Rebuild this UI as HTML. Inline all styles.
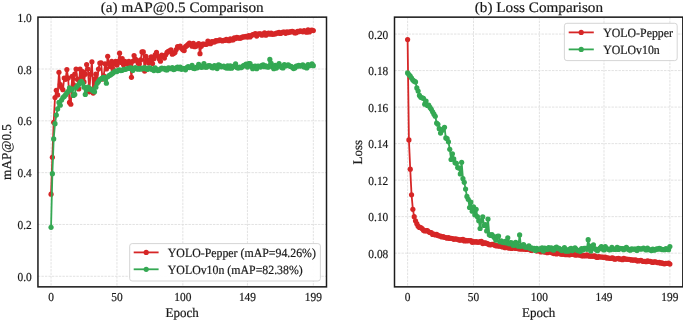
<!DOCTYPE html>
<html><head><meta charset="utf-8"><style>
html,body{margin:0;padding:0;background:#fff;width:685px;height:321px;overflow:hidden}
svg{display:block}
text{text-rendering:geometricPrecision;font-family:"Liberation Serif",serif;fill:#1a1a1a;stroke:#1a1a1a;stroke-width:0.2px}
</style></head><body>
<svg width="685" height="321" viewBox="0 0 685 321">
<defs><filter id="b" x="0" y="0" width="1" height="1"><feGaussianBlur stdDeviation="0.35"/></filter></defs>
<rect width="685" height="321" fill="#fff"/>
<g filter="url(#b)">
<line x1="51.05" x2="51.05" y1="17.15" y2="286.85" stroke="#dfdfdf" stroke-width="0.9" stroke-dasharray="2.4 1.1"/>
<line x1="116.95" x2="116.95" y1="17.15" y2="286.85" stroke="#dfdfdf" stroke-width="0.9" stroke-dasharray="2.4 1.1"/>
<line x1="182.85" x2="182.85" y1="17.15" y2="286.85" stroke="#dfdfdf" stroke-width="0.9" stroke-dasharray="2.4 1.1"/>
<line x1="247.43" x2="247.43" y1="17.15" y2="286.85" stroke="#dfdfdf" stroke-width="0.9" stroke-dasharray="2.4 1.1"/>
<line x1="313.33" x2="313.33" y1="17.15" y2="286.85" stroke="#dfdfdf" stroke-width="0.9" stroke-dasharray="2.4 1.1"/>
<line x1="37.95" x2="326.5" y1="276.28" y2="276.28" stroke="#dfdfdf" stroke-width="0.9" stroke-dasharray="2.4 1.1"/>
<line x1="37.95" x2="326.5" y1="224.46" y2="224.46" stroke="#dfdfdf" stroke-width="0.9" stroke-dasharray="2.4 1.1"/>
<line x1="37.95" x2="326.5" y1="172.64" y2="172.64" stroke="#dfdfdf" stroke-width="0.9" stroke-dasharray="2.4 1.1"/>
<line x1="37.95" x2="326.5" y1="120.82" y2="120.82" stroke="#dfdfdf" stroke-width="0.9" stroke-dasharray="2.4 1.1"/>
<line x1="37.95" x2="326.5" y1="69.00" y2="69.00" stroke="#dfdfdf" stroke-width="0.9" stroke-dasharray="2.4 1.1"/>
<line x1="37.95" x2="326.5" y1="17.18" y2="17.18" stroke="#dfdfdf" stroke-width="0.9" stroke-dasharray="2.4 1.1"/>
<polyline points="51.05,194.15 52.37,157.35 53.69,122.37 55.00,97.50 56.32,90.25 57.64,94.91 58.96,72.37 60.28,84.55 61.59,87.40 62.91,89.73 64.23,78.07 65.55,79.36 66.87,69.52 68.18,78.07 69.50,102.42 70.82,104.24 72.14,76.25 73.46,84.55 74.77,74.18 76.09,69.00 77.41,79.36 78.73,88.95 80.05,69.00 81.36,76.77 82.68,71.59 84.00,81.95 85.32,74.18 86.64,64.60 87.95,69.00 89.27,91.80 90.59,74.18 91.91,61.75 93.23,93.10 94.54,79.10 95.86,74.18 97.18,80.40 98.50,69.00 99.82,63.04 101.13,62.78 102.45,79.10 103.77,75.74 105.09,63.82 106.41,69.00 107.72,56.30 109.04,63.82 110.36,66.41 111.68,61.23 113.00,69.00 114.31,63.82 115.63,61.23 116.95,65.11 118.27,61.23 119.59,53.19 120.90,62.52 122.22,58.64 123.54,64.85 124.86,61.23 126.18,63.30 127.49,63.82 128.81,61.23 130.13,64.34 131.45,77.29 132.77,61.23 134.08,55.53 135.40,59.15 136.72,60.45 138.04,63.04 139.36,63.82 140.67,59.93 141.99,51.90 143.31,51.90 144.63,71.07 145.95,56.30 147.26,59.93 148.58,63.04 149.90,60.45 151.22,56.82 152.54,63.56 153.85,58.64 155.17,54.75 156.49,52.42 157.81,56.04 159.13,58.64 160.44,61.23 161.76,55.01 163.08,56.04 164.40,58.12 165.72,54.75 167.03,52.42 168.35,51.38 169.67,50.86 170.99,49.83 172.31,54.23 173.62,53.45 174.94,52.42 176.26,49.57 177.58,46.72 178.90,46.98 180.21,46.20 181.53,48.27 182.85,49.83 184.17,50.60 185.49,46.72 186.80,45.68 188.12,44.39 189.44,43.09 190.76,44.20 192.08,46.19 193.39,43.35 194.71,46.68 196.03,46.13 197.35,44.95 198.67,43.56 199.98,53.71 201.30,46.33 202.62,44.04 203.94,43.99 205.26,44.32 206.57,44.31 207.89,40.99 209.21,43.40 210.53,43.65 211.85,41.62 213.16,41.94 214.48,41.90 215.80,40.70 217.12,40.79 218.44,40.70 219.75,39.88 221.07,40.32 222.39,40.90 223.71,40.43 225.03,40.33 226.34,39.44 227.66,40.35 228.98,40.74 230.30,38.84 231.62,39.84 232.93,40.00 234.25,37.88 235.57,38.57 236.89,37.30 238.21,37.93 239.52,38.19 240.84,38.05 242.16,37.20 243.48,36.76 244.80,36.97 246.11,36.28 247.43,37.07 248.75,35.56 250.07,36.90 251.39,35.50 252.70,34.68 254.02,34.26 255.34,33.66 256.66,36.11 257.98,34.19 259.29,33.74 260.61,33.80 261.93,35.14 263.25,34.01 264.57,32.86 265.88,35.21 267.20,33.63 268.52,33.05 269.84,34.26 271.16,33.21 272.47,34.30 273.79,33.99 275.11,33.88 276.43,33.05 277.75,33.13 279.06,32.29 280.38,33.49 281.70,32.82 283.02,31.98 284.34,32.17 285.65,33.36 286.97,31.94 288.29,32.61 289.61,31.95 290.93,31.93 292.24,31.24 293.56,31.87 294.88,33.01 296.20,32.64 297.52,31.23 298.83,31.76 300.15,30.81 301.47,31.26 302.79,31.80 304.11,30.60 305.42,31.66 306.74,32.16 308.06,29.94 309.38,31.96 310.70,30.46 312.01,30.20 313.33,30.57" fill="none" stroke="#d62728" stroke-width="1.8" stroke-linejoin="round"/>
<g fill="#d62728"><circle cx="51.05" cy="194.15" r="2.6"/><circle cx="52.37" cy="157.35" r="2.6"/><circle cx="53.69" cy="122.37" r="2.6"/><circle cx="55.00" cy="97.50" r="2.6"/><circle cx="56.32" cy="90.25" r="2.6"/><circle cx="57.64" cy="94.91" r="2.6"/><circle cx="58.96" cy="72.37" r="2.6"/><circle cx="60.28" cy="84.55" r="2.6"/><circle cx="61.59" cy="87.40" r="2.6"/><circle cx="62.91" cy="89.73" r="2.6"/><circle cx="64.23" cy="78.07" r="2.6"/><circle cx="65.55" cy="79.36" r="2.6"/><circle cx="66.87" cy="69.52" r="2.6"/><circle cx="68.18" cy="78.07" r="2.6"/><circle cx="69.50" cy="102.42" r="2.6"/><circle cx="70.82" cy="104.24" r="2.6"/><circle cx="72.14" cy="76.25" r="2.6"/><circle cx="73.46" cy="84.55" r="2.6"/><circle cx="74.77" cy="74.18" r="2.6"/><circle cx="76.09" cy="69.00" r="2.6"/><circle cx="77.41" cy="79.36" r="2.6"/><circle cx="78.73" cy="88.95" r="2.6"/><circle cx="80.05" cy="69.00" r="2.6"/><circle cx="81.36" cy="76.77" r="2.6"/><circle cx="82.68" cy="71.59" r="2.6"/><circle cx="84.00" cy="81.95" r="2.6"/><circle cx="85.32" cy="74.18" r="2.6"/><circle cx="86.64" cy="64.60" r="2.6"/><circle cx="87.95" cy="69.00" r="2.6"/><circle cx="89.27" cy="91.80" r="2.6"/><circle cx="90.59" cy="74.18" r="2.6"/><circle cx="91.91" cy="61.75" r="2.6"/><circle cx="93.23" cy="93.10" r="2.6"/><circle cx="94.54" cy="79.10" r="2.6"/><circle cx="95.86" cy="74.18" r="2.6"/><circle cx="97.18" cy="80.40" r="2.6"/><circle cx="98.50" cy="69.00" r="2.6"/><circle cx="99.82" cy="63.04" r="2.6"/><circle cx="101.13" cy="62.78" r="2.6"/><circle cx="102.45" cy="79.10" r="2.6"/><circle cx="103.77" cy="75.74" r="2.6"/><circle cx="105.09" cy="63.82" r="2.6"/><circle cx="106.41" cy="69.00" r="2.6"/><circle cx="107.72" cy="56.30" r="2.6"/><circle cx="109.04" cy="63.82" r="2.6"/><circle cx="110.36" cy="66.41" r="2.6"/><circle cx="111.68" cy="61.23" r="2.6"/><circle cx="113.00" cy="69.00" r="2.6"/><circle cx="114.31" cy="63.82" r="2.6"/><circle cx="115.63" cy="61.23" r="2.6"/><circle cx="116.95" cy="65.11" r="2.6"/><circle cx="118.27" cy="61.23" r="2.6"/><circle cx="119.59" cy="53.19" r="2.6"/><circle cx="120.90" cy="62.52" r="2.6"/><circle cx="122.22" cy="58.64" r="2.6"/><circle cx="123.54" cy="64.85" r="2.6"/><circle cx="124.86" cy="61.23" r="2.6"/><circle cx="126.18" cy="63.30" r="2.6"/><circle cx="127.49" cy="63.82" r="2.6"/><circle cx="128.81" cy="61.23" r="2.6"/><circle cx="130.13" cy="64.34" r="2.6"/><circle cx="131.45" cy="77.29" r="2.6"/><circle cx="132.77" cy="61.23" r="2.6"/><circle cx="134.08" cy="55.53" r="2.6"/><circle cx="135.40" cy="59.15" r="2.6"/><circle cx="136.72" cy="60.45" r="2.6"/><circle cx="138.04" cy="63.04" r="2.6"/><circle cx="139.36" cy="63.82" r="2.6"/><circle cx="140.67" cy="59.93" r="2.6"/><circle cx="141.99" cy="51.90" r="2.6"/><circle cx="143.31" cy="51.90" r="2.6"/><circle cx="144.63" cy="71.07" r="2.6"/><circle cx="145.95" cy="56.30" r="2.6"/><circle cx="147.26" cy="59.93" r="2.6"/><circle cx="148.58" cy="63.04" r="2.6"/><circle cx="149.90" cy="60.45" r="2.6"/><circle cx="151.22" cy="56.82" r="2.6"/><circle cx="152.54" cy="63.56" r="2.6"/><circle cx="153.85" cy="58.64" r="2.6"/><circle cx="155.17" cy="54.75" r="2.6"/><circle cx="156.49" cy="52.42" r="2.6"/><circle cx="157.81" cy="56.04" r="2.6"/><circle cx="159.13" cy="58.64" r="2.6"/><circle cx="160.44" cy="61.23" r="2.6"/><circle cx="161.76" cy="55.01" r="2.6"/><circle cx="163.08" cy="56.04" r="2.6"/><circle cx="164.40" cy="58.12" r="2.6"/><circle cx="165.72" cy="54.75" r="2.6"/><circle cx="167.03" cy="52.42" r="2.6"/><circle cx="168.35" cy="51.38" r="2.6"/><circle cx="169.67" cy="50.86" r="2.6"/><circle cx="170.99" cy="49.83" r="2.6"/><circle cx="172.31" cy="54.23" r="2.6"/><circle cx="173.62" cy="53.45" r="2.6"/><circle cx="174.94" cy="52.42" r="2.6"/><circle cx="176.26" cy="49.57" r="2.6"/><circle cx="177.58" cy="46.72" r="2.6"/><circle cx="178.90" cy="46.98" r="2.6"/><circle cx="180.21" cy="46.20" r="2.6"/><circle cx="181.53" cy="48.27" r="2.6"/><circle cx="182.85" cy="49.83" r="2.6"/><circle cx="184.17" cy="50.60" r="2.6"/><circle cx="185.49" cy="46.72" r="2.6"/><circle cx="186.80" cy="45.68" r="2.6"/><circle cx="188.12" cy="44.39" r="2.6"/><circle cx="189.44" cy="43.09" r="2.6"/><circle cx="190.76" cy="44.20" r="2.6"/><circle cx="192.08" cy="46.19" r="2.6"/><circle cx="193.39" cy="43.35" r="2.6"/><circle cx="194.71" cy="46.68" r="2.6"/><circle cx="196.03" cy="46.13" r="2.6"/><circle cx="197.35" cy="44.95" r="2.6"/><circle cx="198.67" cy="43.56" r="2.6"/><circle cx="199.98" cy="53.71" r="2.6"/><circle cx="201.30" cy="46.33" r="2.6"/><circle cx="202.62" cy="44.04" r="2.6"/><circle cx="203.94" cy="43.99" r="2.6"/><circle cx="205.26" cy="44.32" r="2.6"/><circle cx="206.57" cy="44.31" r="2.6"/><circle cx="207.89" cy="40.99" r="2.6"/><circle cx="209.21" cy="43.40" r="2.6"/><circle cx="210.53" cy="43.65" r="2.6"/><circle cx="211.85" cy="41.62" r="2.6"/><circle cx="213.16" cy="41.94" r="2.6"/><circle cx="214.48" cy="41.90" r="2.6"/><circle cx="215.80" cy="40.70" r="2.6"/><circle cx="217.12" cy="40.79" r="2.6"/><circle cx="218.44" cy="40.70" r="2.6"/><circle cx="219.75" cy="39.88" r="2.6"/><circle cx="221.07" cy="40.32" r="2.6"/><circle cx="222.39" cy="40.90" r="2.6"/><circle cx="223.71" cy="40.43" r="2.6"/><circle cx="225.03" cy="40.33" r="2.6"/><circle cx="226.34" cy="39.44" r="2.6"/><circle cx="227.66" cy="40.35" r="2.6"/><circle cx="228.98" cy="40.74" r="2.6"/><circle cx="230.30" cy="38.84" r="2.6"/><circle cx="231.62" cy="39.84" r="2.6"/><circle cx="232.93" cy="40.00" r="2.6"/><circle cx="234.25" cy="37.88" r="2.6"/><circle cx="235.57" cy="38.57" r="2.6"/><circle cx="236.89" cy="37.30" r="2.6"/><circle cx="238.21" cy="37.93" r="2.6"/><circle cx="239.52" cy="38.19" r="2.6"/><circle cx="240.84" cy="38.05" r="2.6"/><circle cx="242.16" cy="37.20" r="2.6"/><circle cx="243.48" cy="36.76" r="2.6"/><circle cx="244.80" cy="36.97" r="2.6"/><circle cx="246.11" cy="36.28" r="2.6"/><circle cx="247.43" cy="37.07" r="2.6"/><circle cx="248.75" cy="35.56" r="2.6"/><circle cx="250.07" cy="36.90" r="2.6"/><circle cx="251.39" cy="35.50" r="2.6"/><circle cx="252.70" cy="34.68" r="2.6"/><circle cx="254.02" cy="34.26" r="2.6"/><circle cx="255.34" cy="33.66" r="2.6"/><circle cx="256.66" cy="36.11" r="2.6"/><circle cx="257.98" cy="34.19" r="2.6"/><circle cx="259.29" cy="33.74" r="2.6"/><circle cx="260.61" cy="33.80" r="2.6"/><circle cx="261.93" cy="35.14" r="2.6"/><circle cx="263.25" cy="34.01" r="2.6"/><circle cx="264.57" cy="32.86" r="2.6"/><circle cx="265.88" cy="35.21" r="2.6"/><circle cx="267.20" cy="33.63" r="2.6"/><circle cx="268.52" cy="33.05" r="2.6"/><circle cx="269.84" cy="34.26" r="2.6"/><circle cx="271.16" cy="33.21" r="2.6"/><circle cx="272.47" cy="34.30" r="2.6"/><circle cx="273.79" cy="33.99" r="2.6"/><circle cx="275.11" cy="33.88" r="2.6"/><circle cx="276.43" cy="33.05" r="2.6"/><circle cx="277.75" cy="33.13" r="2.6"/><circle cx="279.06" cy="32.29" r="2.6"/><circle cx="280.38" cy="33.49" r="2.6"/><circle cx="281.70" cy="32.82" r="2.6"/><circle cx="283.02" cy="31.98" r="2.6"/><circle cx="284.34" cy="32.17" r="2.6"/><circle cx="285.65" cy="33.36" r="2.6"/><circle cx="286.97" cy="31.94" r="2.6"/><circle cx="288.29" cy="32.61" r="2.6"/><circle cx="289.61" cy="31.95" r="2.6"/><circle cx="290.93" cy="31.93" r="2.6"/><circle cx="292.24" cy="31.24" r="2.6"/><circle cx="293.56" cy="31.87" r="2.6"/><circle cx="294.88" cy="33.01" r="2.6"/><circle cx="296.20" cy="32.64" r="2.6"/><circle cx="297.52" cy="31.23" r="2.6"/><circle cx="298.83" cy="31.76" r="2.6"/><circle cx="300.15" cy="30.81" r="2.6"/><circle cx="301.47" cy="31.26" r="2.6"/><circle cx="302.79" cy="31.80" r="2.6"/><circle cx="304.11" cy="30.60" r="2.6"/><circle cx="305.42" cy="31.66" r="2.6"/><circle cx="306.74" cy="32.16" r="2.6"/><circle cx="308.06" cy="29.94" r="2.6"/><circle cx="309.38" cy="31.96" r="2.6"/><circle cx="310.70" cy="30.46" r="2.6"/><circle cx="312.01" cy="30.20" r="2.6"/><circle cx="313.33" cy="30.57" r="2.6"/></g>
<polyline points="51.05,227.31 52.37,173.68 53.69,138.96 55.00,123.67 56.32,115.12 57.64,108.90 58.96,102.42 60.28,105.27 61.59,100.09 62.91,97.50 64.23,96.46 65.55,94.91 66.87,92.84 68.18,91.28 69.50,87.91 70.82,89.99 72.14,89.21 73.46,95.43 74.77,94.39 76.09,87.40 77.41,85.84 78.73,84.55 80.05,82.47 81.36,81.44 82.68,83.25 84.00,87.14 85.32,94.39 86.64,89.73 87.95,87.14 89.27,88.43 90.59,89.21 91.91,89.99 93.23,91.02 94.54,91.80 95.86,87.14 97.18,83.25 98.50,81.44 99.82,79.62 101.13,78.85 102.45,77.81 103.77,77.29 105.09,79.36 106.41,83.25 107.72,76.77 109.04,75.48 110.36,74.96 111.68,73.92 113.00,72.89 114.31,71.85 115.63,71.07 116.95,71.59 118.27,70.30 119.59,69.78 120.90,70.55 122.22,70.30 123.54,69.26 124.86,69.52 126.18,69.00 127.49,68.48 128.81,68.38 130.13,67.81 131.45,68.16 132.77,70.47 134.08,68.50 135.40,67.48 136.72,68.72 138.04,69.21 139.36,68.46 140.67,69.20 141.99,68.16 143.31,68.75 144.63,67.48 145.95,68.29 147.26,69.40 148.58,68.19 149.90,67.89 151.22,69.26 152.54,69.13 153.85,70.55 155.17,67.92 156.49,69.27 157.81,70.55 159.13,70.34 160.44,68.94 161.76,68.05 163.08,68.82 164.40,68.31 165.72,69.74 167.03,69.96 168.35,67.94 169.67,68.29 170.99,68.77 172.31,67.58 173.62,69.60 174.94,69.12 176.26,67.81 177.58,67.07 178.90,68.73 180.21,67.22 181.53,69.29 182.85,68.44 184.17,68.65 185.49,69.79 186.80,67.70 188.12,66.71 189.44,67.61 190.76,67.27 192.08,65.37 193.39,68.36 194.71,68.55 196.03,67.34 197.35,67.87 198.67,64.41 199.98,65.77 201.30,67.31 202.62,67.01 203.94,63.64 205.26,67.04 206.57,67.26 207.89,65.90 209.21,65.48 210.53,66.04 211.85,67.53 213.16,67.87 214.48,65.62 215.80,66.48 217.12,68.53 218.44,64.87 219.75,65.37 221.07,66.68 222.39,66.69 223.71,66.05 225.03,67.23 226.34,68.07 227.66,65.90 228.98,68.17 230.30,65.79 231.62,68.15 232.93,66.40 234.25,66.44 235.57,63.94 236.89,67.62 238.21,68.07 239.52,67.06 240.84,67.67 242.16,66.97 243.48,65.65 244.80,65.18 246.11,64.02 247.43,67.11 248.75,63.56 250.07,63.58 251.39,66.40 252.70,68.73 254.02,66.24 255.34,66.03 256.66,68.71 257.98,66.02 259.29,66.37 260.61,67.12 261.93,65.29 263.25,64.79 264.57,66.72 265.88,65.78 267.20,66.92 268.52,67.09 269.84,59.41 271.16,63.30 272.47,66.78 273.79,68.64 275.11,65.29 276.43,68.11 277.75,65.88 279.06,63.72 280.38,66.04 281.70,67.56 283.02,67.91 284.34,64.49 285.65,66.02 286.97,65.30 288.29,64.79 289.61,66.05 290.93,66.38 292.24,67.20 293.56,68.56 294.88,67.93 296.20,66.05 297.52,66.18 298.83,65.43 300.15,66.11 301.47,65.73 302.79,64.91 304.11,67.07 305.42,66.29 306.74,68.00 308.06,64.65 309.38,65.86 310.70,65.27 312.01,63.90 313.33,65.63" fill="none" stroke="#34a853" stroke-width="1.8" stroke-linejoin="round"/>
<g fill="#34a853"><circle cx="51.05" cy="227.31" r="2.6"/><circle cx="52.37" cy="173.68" r="2.6"/><circle cx="53.69" cy="138.96" r="2.6"/><circle cx="55.00" cy="123.67" r="2.6"/><circle cx="56.32" cy="115.12" r="2.6"/><circle cx="57.64" cy="108.90" r="2.6"/><circle cx="58.96" cy="102.42" r="2.6"/><circle cx="60.28" cy="105.27" r="2.6"/><circle cx="61.59" cy="100.09" r="2.6"/><circle cx="62.91" cy="97.50" r="2.6"/><circle cx="64.23" cy="96.46" r="2.6"/><circle cx="65.55" cy="94.91" r="2.6"/><circle cx="66.87" cy="92.84" r="2.6"/><circle cx="68.18" cy="91.28" r="2.6"/><circle cx="69.50" cy="87.91" r="2.6"/><circle cx="70.82" cy="89.99" r="2.6"/><circle cx="72.14" cy="89.21" r="2.6"/><circle cx="73.46" cy="95.43" r="2.6"/><circle cx="74.77" cy="94.39" r="2.6"/><circle cx="76.09" cy="87.40" r="2.6"/><circle cx="77.41" cy="85.84" r="2.6"/><circle cx="78.73" cy="84.55" r="2.6"/><circle cx="80.05" cy="82.47" r="2.6"/><circle cx="81.36" cy="81.44" r="2.6"/><circle cx="82.68" cy="83.25" r="2.6"/><circle cx="84.00" cy="87.14" r="2.6"/><circle cx="85.32" cy="94.39" r="2.6"/><circle cx="86.64" cy="89.73" r="2.6"/><circle cx="87.95" cy="87.14" r="2.6"/><circle cx="89.27" cy="88.43" r="2.6"/><circle cx="90.59" cy="89.21" r="2.6"/><circle cx="91.91" cy="89.99" r="2.6"/><circle cx="93.23" cy="91.02" r="2.6"/><circle cx="94.54" cy="91.80" r="2.6"/><circle cx="95.86" cy="87.14" r="2.6"/><circle cx="97.18" cy="83.25" r="2.6"/><circle cx="98.50" cy="81.44" r="2.6"/><circle cx="99.82" cy="79.62" r="2.6"/><circle cx="101.13" cy="78.85" r="2.6"/><circle cx="102.45" cy="77.81" r="2.6"/><circle cx="103.77" cy="77.29" r="2.6"/><circle cx="105.09" cy="79.36" r="2.6"/><circle cx="106.41" cy="83.25" r="2.6"/><circle cx="107.72" cy="76.77" r="2.6"/><circle cx="109.04" cy="75.48" r="2.6"/><circle cx="110.36" cy="74.96" r="2.6"/><circle cx="111.68" cy="73.92" r="2.6"/><circle cx="113.00" cy="72.89" r="2.6"/><circle cx="114.31" cy="71.85" r="2.6"/><circle cx="115.63" cy="71.07" r="2.6"/><circle cx="116.95" cy="71.59" r="2.6"/><circle cx="118.27" cy="70.30" r="2.6"/><circle cx="119.59" cy="69.78" r="2.6"/><circle cx="120.90" cy="70.55" r="2.6"/><circle cx="122.22" cy="70.30" r="2.6"/><circle cx="123.54" cy="69.26" r="2.6"/><circle cx="124.86" cy="69.52" r="2.6"/><circle cx="126.18" cy="69.00" r="2.6"/><circle cx="127.49" cy="68.48" r="2.6"/><circle cx="128.81" cy="68.38" r="2.6"/><circle cx="130.13" cy="67.81" r="2.6"/><circle cx="131.45" cy="68.16" r="2.6"/><circle cx="132.77" cy="70.47" r="2.6"/><circle cx="134.08" cy="68.50" r="2.6"/><circle cx="135.40" cy="67.48" r="2.6"/><circle cx="136.72" cy="68.72" r="2.6"/><circle cx="138.04" cy="69.21" r="2.6"/><circle cx="139.36" cy="68.46" r="2.6"/><circle cx="140.67" cy="69.20" r="2.6"/><circle cx="141.99" cy="68.16" r="2.6"/><circle cx="143.31" cy="68.75" r="2.6"/><circle cx="144.63" cy="67.48" r="2.6"/><circle cx="145.95" cy="68.29" r="2.6"/><circle cx="147.26" cy="69.40" r="2.6"/><circle cx="148.58" cy="68.19" r="2.6"/><circle cx="149.90" cy="67.89" r="2.6"/><circle cx="151.22" cy="69.26" r="2.6"/><circle cx="152.54" cy="69.13" r="2.6"/><circle cx="153.85" cy="70.55" r="2.6"/><circle cx="155.17" cy="67.92" r="2.6"/><circle cx="156.49" cy="69.27" r="2.6"/><circle cx="157.81" cy="70.55" r="2.6"/><circle cx="159.13" cy="70.34" r="2.6"/><circle cx="160.44" cy="68.94" r="2.6"/><circle cx="161.76" cy="68.05" r="2.6"/><circle cx="163.08" cy="68.82" r="2.6"/><circle cx="164.40" cy="68.31" r="2.6"/><circle cx="165.72" cy="69.74" r="2.6"/><circle cx="167.03" cy="69.96" r="2.6"/><circle cx="168.35" cy="67.94" r="2.6"/><circle cx="169.67" cy="68.29" r="2.6"/><circle cx="170.99" cy="68.77" r="2.6"/><circle cx="172.31" cy="67.58" r="2.6"/><circle cx="173.62" cy="69.60" r="2.6"/><circle cx="174.94" cy="69.12" r="2.6"/><circle cx="176.26" cy="67.81" r="2.6"/><circle cx="177.58" cy="67.07" r="2.6"/><circle cx="178.90" cy="68.73" r="2.6"/><circle cx="180.21" cy="67.22" r="2.6"/><circle cx="181.53" cy="69.29" r="2.6"/><circle cx="182.85" cy="68.44" r="2.6"/><circle cx="184.17" cy="68.65" r="2.6"/><circle cx="185.49" cy="69.79" r="2.6"/><circle cx="186.80" cy="67.70" r="2.6"/><circle cx="188.12" cy="66.71" r="2.6"/><circle cx="189.44" cy="67.61" r="2.6"/><circle cx="190.76" cy="67.27" r="2.6"/><circle cx="192.08" cy="65.37" r="2.6"/><circle cx="193.39" cy="68.36" r="2.6"/><circle cx="194.71" cy="68.55" r="2.6"/><circle cx="196.03" cy="67.34" r="2.6"/><circle cx="197.35" cy="67.87" r="2.6"/><circle cx="198.67" cy="64.41" r="2.6"/><circle cx="199.98" cy="65.77" r="2.6"/><circle cx="201.30" cy="67.31" r="2.6"/><circle cx="202.62" cy="67.01" r="2.6"/><circle cx="203.94" cy="63.64" r="2.6"/><circle cx="205.26" cy="67.04" r="2.6"/><circle cx="206.57" cy="67.26" r="2.6"/><circle cx="207.89" cy="65.90" r="2.6"/><circle cx="209.21" cy="65.48" r="2.6"/><circle cx="210.53" cy="66.04" r="2.6"/><circle cx="211.85" cy="67.53" r="2.6"/><circle cx="213.16" cy="67.87" r="2.6"/><circle cx="214.48" cy="65.62" r="2.6"/><circle cx="215.80" cy="66.48" r="2.6"/><circle cx="217.12" cy="68.53" r="2.6"/><circle cx="218.44" cy="64.87" r="2.6"/><circle cx="219.75" cy="65.37" r="2.6"/><circle cx="221.07" cy="66.68" r="2.6"/><circle cx="222.39" cy="66.69" r="2.6"/><circle cx="223.71" cy="66.05" r="2.6"/><circle cx="225.03" cy="67.23" r="2.6"/><circle cx="226.34" cy="68.07" r="2.6"/><circle cx="227.66" cy="65.90" r="2.6"/><circle cx="228.98" cy="68.17" r="2.6"/><circle cx="230.30" cy="65.79" r="2.6"/><circle cx="231.62" cy="68.15" r="2.6"/><circle cx="232.93" cy="66.40" r="2.6"/><circle cx="234.25" cy="66.44" r="2.6"/><circle cx="235.57" cy="63.94" r="2.6"/><circle cx="236.89" cy="67.62" r="2.6"/><circle cx="238.21" cy="68.07" r="2.6"/><circle cx="239.52" cy="67.06" r="2.6"/><circle cx="240.84" cy="67.67" r="2.6"/><circle cx="242.16" cy="66.97" r="2.6"/><circle cx="243.48" cy="65.65" r="2.6"/><circle cx="244.80" cy="65.18" r="2.6"/><circle cx="246.11" cy="64.02" r="2.6"/><circle cx="247.43" cy="67.11" r="2.6"/><circle cx="248.75" cy="63.56" r="2.6"/><circle cx="250.07" cy="63.58" r="2.6"/><circle cx="251.39" cy="66.40" r="2.6"/><circle cx="252.70" cy="68.73" r="2.6"/><circle cx="254.02" cy="66.24" r="2.6"/><circle cx="255.34" cy="66.03" r="2.6"/><circle cx="256.66" cy="68.71" r="2.6"/><circle cx="257.98" cy="66.02" r="2.6"/><circle cx="259.29" cy="66.37" r="2.6"/><circle cx="260.61" cy="67.12" r="2.6"/><circle cx="261.93" cy="65.29" r="2.6"/><circle cx="263.25" cy="64.79" r="2.6"/><circle cx="264.57" cy="66.72" r="2.6"/><circle cx="265.88" cy="65.78" r="2.6"/><circle cx="267.20" cy="66.92" r="2.6"/><circle cx="268.52" cy="67.09" r="2.6"/><circle cx="269.84" cy="59.41" r="2.6"/><circle cx="271.16" cy="63.30" r="2.6"/><circle cx="272.47" cy="66.78" r="2.6"/><circle cx="273.79" cy="68.64" r="2.6"/><circle cx="275.11" cy="65.29" r="2.6"/><circle cx="276.43" cy="68.11" r="2.6"/><circle cx="277.75" cy="65.88" r="2.6"/><circle cx="279.06" cy="63.72" r="2.6"/><circle cx="280.38" cy="66.04" r="2.6"/><circle cx="281.70" cy="67.56" r="2.6"/><circle cx="283.02" cy="67.91" r="2.6"/><circle cx="284.34" cy="64.49" r="2.6"/><circle cx="285.65" cy="66.02" r="2.6"/><circle cx="286.97" cy="65.30" r="2.6"/><circle cx="288.29" cy="64.79" r="2.6"/><circle cx="289.61" cy="66.05" r="2.6"/><circle cx="290.93" cy="66.38" r="2.6"/><circle cx="292.24" cy="67.20" r="2.6"/><circle cx="293.56" cy="68.56" r="2.6"/><circle cx="294.88" cy="67.93" r="2.6"/><circle cx="296.20" cy="66.05" r="2.6"/><circle cx="297.52" cy="66.18" r="2.6"/><circle cx="298.83" cy="65.43" r="2.6"/><circle cx="300.15" cy="66.11" r="2.6"/><circle cx="301.47" cy="65.73" r="2.6"/><circle cx="302.79" cy="64.91" r="2.6"/><circle cx="304.11" cy="67.07" r="2.6"/><circle cx="305.42" cy="66.29" r="2.6"/><circle cx="306.74" cy="68.00" r="2.6"/><circle cx="308.06" cy="64.65" r="2.6"/><circle cx="309.38" cy="65.86" r="2.6"/><circle cx="310.70" cy="65.27" r="2.6"/><circle cx="312.01" cy="63.90" r="2.6"/><circle cx="313.33" cy="65.63" r="2.6"/></g>
<rect x="37.95" y="17.15" width="288.55" height="269.70" fill="none" stroke="#1a1a1a" stroke-width="1.5"/>
<text transform="translate(51.05,301.30) scale(1,1.07)" font-size="11.4" text-anchor="middle">0</text>
<text transform="translate(116.95,301.30) scale(1,1.07)" font-size="11.4" text-anchor="middle">50</text>
<text transform="translate(182.85,301.30) scale(1,1.07)" font-size="11.4" text-anchor="middle">100</text>
<text transform="translate(247.43,301.30) scale(1,1.07)" font-size="11.4" text-anchor="middle">149</text>
<text transform="translate(313.33,301.30) scale(1,1.07)" font-size="11.4" text-anchor="middle">199</text>
<text transform="translate(31.70,280.88) scale(1,1.07)" font-size="11.4" text-anchor="end">0.0</text>
<text transform="translate(31.70,229.06) scale(1,1.07)" font-size="11.4" text-anchor="end">0.2</text>
<text transform="translate(31.70,177.24) scale(1,1.07)" font-size="11.4" text-anchor="end">0.4</text>
<text transform="translate(31.70,125.42) scale(1,1.07)" font-size="11.4" text-anchor="end">0.6</text>
<text transform="translate(31.70,73.60) scale(1,1.07)" font-size="11.4" text-anchor="end">0.8</text>
<text transform="translate(31.70,21.78) scale(1,1.07)" font-size="11.4" text-anchor="end">1.0</text>
<line x1="407.60" x2="407.60" y1="17.15" y2="286.85" stroke="#dfdfdf" stroke-width="0.9" stroke-dasharray="2.4 1.1"/>
<line x1="473.50" x2="473.50" y1="17.15" y2="286.85" stroke="#dfdfdf" stroke-width="0.9" stroke-dasharray="2.4 1.1"/>
<line x1="539.40" x2="539.40" y1="17.15" y2="286.85" stroke="#dfdfdf" stroke-width="0.9" stroke-dasharray="2.4 1.1"/>
<line x1="603.98" x2="603.98" y1="17.15" y2="286.85" stroke="#dfdfdf" stroke-width="0.9" stroke-dasharray="2.4 1.1"/>
<line x1="669.88" x2="669.88" y1="17.15" y2="286.85" stroke="#dfdfdf" stroke-width="0.9" stroke-dasharray="2.4 1.1"/>
<line x1="394.5" x2="682.85" y1="253.16" y2="253.16" stroke="#dfdfdf" stroke-width="0.9" stroke-dasharray="2.4 1.1"/>
<line x1="394.5" x2="682.85" y1="216.64" y2="216.64" stroke="#dfdfdf" stroke-width="0.9" stroke-dasharray="2.4 1.1"/>
<line x1="394.5" x2="682.85" y1="180.13" y2="180.13" stroke="#dfdfdf" stroke-width="0.9" stroke-dasharray="2.4 1.1"/>
<line x1="394.5" x2="682.85" y1="143.61" y2="143.61" stroke="#dfdfdf" stroke-width="0.9" stroke-dasharray="2.4 1.1"/>
<line x1="394.5" x2="682.85" y1="107.10" y2="107.10" stroke="#dfdfdf" stroke-width="0.9" stroke-dasharray="2.4 1.1"/>
<line x1="394.5" x2="682.85" y1="70.59" y2="70.59" stroke="#dfdfdf" stroke-width="0.9" stroke-dasharray="2.4 1.1"/>
<line x1="394.5" x2="682.85" y1="34.07" y2="34.07" stroke="#dfdfdf" stroke-width="0.9" stroke-dasharray="2.4 1.1"/>
<polyline points="407.60,39.55 408.92,139.96 410.24,169.18 411.55,194.74 412.87,209.34 414.19,216.64 415.51,220.84 416.83,223.68 418.14,226.13 419.46,227.47 420.78,227.72 422.10,228.52 423.42,230.15 424.73,230.99 426.05,230.68 427.37,230.61 428.69,231.86 430.01,232.59 431.32,232.58 432.64,234.52 433.96,234.20 435.28,234.98 436.60,234.47 437.91,235.42 439.23,236.02 440.55,236.01 441.87,237.00 443.19,236.61 444.50,237.37 445.82,237.60 447.14,238.17 448.46,237.70 449.78,238.43 451.09,238.28 452.41,238.48 453.73,239.35 455.05,238.80 456.37,239.10 457.68,239.30 459.00,239.90 460.32,240.13 461.64,239.71 462.96,239.30 464.27,241.00 465.59,240.39 466.91,240.97 468.23,240.48 469.55,240.77 470.86,240.56 472.18,242.28 473.50,241.69 474.82,242.03 476.14,241.71 477.45,242.17 478.77,242.26 480.09,241.72 481.41,241.23 482.73,243.53 484.04,242.97 485.36,242.96 486.68,243.42 488.00,243.90 489.32,244.72 490.63,244.81 491.95,244.27 493.27,244.40 494.59,245.14 495.91,245.85 497.22,245.63 498.54,246.04 499.86,245.89 501.18,246.35 502.50,246.96 503.81,246.80 505.13,247.72 506.45,246.88 507.77,246.86 509.09,248.19 510.40,247.55 511.72,248.41 513.04,247.54 514.36,247.78 515.68,248.45 516.99,247.94 518.31,248.75 519.63,248.95 520.95,249.02 522.27,248.91 523.58,249.10 524.90,248.97 526.22,249.44 527.54,248.92 528.86,248.94 530.17,249.82 531.49,250.42 532.81,249.52 534.13,249.53 535.45,250.35 536.76,251.09 538.08,250.55 539.40,250.15 540.72,251.97 542.04,251.05 543.35,251.63 544.67,252.09 545.99,251.65 547.31,252.64 548.63,252.03 549.94,251.70 551.26,252.38 552.58,253.02 553.90,253.59 555.22,253.51 556.53,253.91 557.85,252.45 559.17,253.46 560.49,253.97 561.81,254.23 563.12,254.26 564.44,254.07 565.76,254.65 567.08,253.42 568.40,254.68 569.71,254.84 571.03,254.48 572.35,254.03 573.67,254.17 574.99,255.08 576.30,254.82 577.62,254.95 578.94,254.85 580.26,255.06 581.58,255.68 582.89,255.90 584.21,255.33 585.53,256.02 586.85,254.96 588.17,255.63 589.48,256.19 590.80,255.95 592.12,256.19 593.44,256.18 594.76,255.86 596.07,257.08 597.39,257.43 598.71,256.60 600.03,256.99 601.35,257.00 602.66,257.03 603.98,257.46 605.30,257.19 606.62,258.06 607.94,257.76 609.25,258.27 610.57,258.52 611.89,257.88 613.21,258.02 614.53,259.24 615.84,259.00 617.16,258.51 618.48,258.30 619.80,259.17 621.12,259.08 622.43,259.73 623.75,258.39 625.07,259.16 626.39,259.11 627.71,259.33 629.02,259.34 630.34,259.61 631.66,260.15 632.98,259.82 634.30,260.24 635.61,259.86 636.93,260.86 638.25,260.91 639.57,260.54 640.89,260.42 642.20,261.03 643.52,261.52 644.84,261.41 646.16,261.70 647.48,260.84 648.79,261.39 650.11,261.38 651.43,261.91 652.75,262.40 654.07,261.82 655.38,261.76 656.70,262.34 658.02,262.72 659.34,262.41 660.66,263.13 661.97,262.81 663.29,263.54 664.61,263.78 665.93,263.30 667.25,263.52 668.56,263.03 669.88,264.04" fill="none" stroke="#d62728" stroke-width="1.8" stroke-linejoin="round"/>
<g fill="#d62728"><circle cx="407.60" cy="39.55" r="2.6"/><circle cx="408.92" cy="139.96" r="2.6"/><circle cx="410.24" cy="169.18" r="2.6"/><circle cx="411.55" cy="194.74" r="2.6"/><circle cx="412.87" cy="209.34" r="2.6"/><circle cx="414.19" cy="216.64" r="2.6"/><circle cx="415.51" cy="220.84" r="2.6"/><circle cx="416.83" cy="223.68" r="2.6"/><circle cx="418.14" cy="226.13" r="2.6"/><circle cx="419.46" cy="227.47" r="2.6"/><circle cx="420.78" cy="227.72" r="2.6"/><circle cx="422.10" cy="228.52" r="2.6"/><circle cx="423.42" cy="230.15" r="2.6"/><circle cx="424.73" cy="230.99" r="2.6"/><circle cx="426.05" cy="230.68" r="2.6"/><circle cx="427.37" cy="230.61" r="2.6"/><circle cx="428.69" cy="231.86" r="2.6"/><circle cx="430.01" cy="232.59" r="2.6"/><circle cx="431.32" cy="232.58" r="2.6"/><circle cx="432.64" cy="234.52" r="2.6"/><circle cx="433.96" cy="234.20" r="2.6"/><circle cx="435.28" cy="234.98" r="2.6"/><circle cx="436.60" cy="234.47" r="2.6"/><circle cx="437.91" cy="235.42" r="2.6"/><circle cx="439.23" cy="236.02" r="2.6"/><circle cx="440.55" cy="236.01" r="2.6"/><circle cx="441.87" cy="237.00" r="2.6"/><circle cx="443.19" cy="236.61" r="2.6"/><circle cx="444.50" cy="237.37" r="2.6"/><circle cx="445.82" cy="237.60" r="2.6"/><circle cx="447.14" cy="238.17" r="2.6"/><circle cx="448.46" cy="237.70" r="2.6"/><circle cx="449.78" cy="238.43" r="2.6"/><circle cx="451.09" cy="238.28" r="2.6"/><circle cx="452.41" cy="238.48" r="2.6"/><circle cx="453.73" cy="239.35" r="2.6"/><circle cx="455.05" cy="238.80" r="2.6"/><circle cx="456.37" cy="239.10" r="2.6"/><circle cx="457.68" cy="239.30" r="2.6"/><circle cx="459.00" cy="239.90" r="2.6"/><circle cx="460.32" cy="240.13" r="2.6"/><circle cx="461.64" cy="239.71" r="2.6"/><circle cx="462.96" cy="239.30" r="2.6"/><circle cx="464.27" cy="241.00" r="2.6"/><circle cx="465.59" cy="240.39" r="2.6"/><circle cx="466.91" cy="240.97" r="2.6"/><circle cx="468.23" cy="240.48" r="2.6"/><circle cx="469.55" cy="240.77" r="2.6"/><circle cx="470.86" cy="240.56" r="2.6"/><circle cx="472.18" cy="242.28" r="2.6"/><circle cx="473.50" cy="241.69" r="2.6"/><circle cx="474.82" cy="242.03" r="2.6"/><circle cx="476.14" cy="241.71" r="2.6"/><circle cx="477.45" cy="242.17" r="2.6"/><circle cx="478.77" cy="242.26" r="2.6"/><circle cx="480.09" cy="241.72" r="2.6"/><circle cx="481.41" cy="241.23" r="2.6"/><circle cx="482.73" cy="243.53" r="2.6"/><circle cx="484.04" cy="242.97" r="2.6"/><circle cx="485.36" cy="242.96" r="2.6"/><circle cx="486.68" cy="243.42" r="2.6"/><circle cx="488.00" cy="243.90" r="2.6"/><circle cx="489.32" cy="244.72" r="2.6"/><circle cx="490.63" cy="244.81" r="2.6"/><circle cx="491.95" cy="244.27" r="2.6"/><circle cx="493.27" cy="244.40" r="2.6"/><circle cx="494.59" cy="245.14" r="2.6"/><circle cx="495.91" cy="245.85" r="2.6"/><circle cx="497.22" cy="245.63" r="2.6"/><circle cx="498.54" cy="246.04" r="2.6"/><circle cx="499.86" cy="245.89" r="2.6"/><circle cx="501.18" cy="246.35" r="2.6"/><circle cx="502.50" cy="246.96" r="2.6"/><circle cx="503.81" cy="246.80" r="2.6"/><circle cx="505.13" cy="247.72" r="2.6"/><circle cx="506.45" cy="246.88" r="2.6"/><circle cx="507.77" cy="246.86" r="2.6"/><circle cx="509.09" cy="248.19" r="2.6"/><circle cx="510.40" cy="247.55" r="2.6"/><circle cx="511.72" cy="248.41" r="2.6"/><circle cx="513.04" cy="247.54" r="2.6"/><circle cx="514.36" cy="247.78" r="2.6"/><circle cx="515.68" cy="248.45" r="2.6"/><circle cx="516.99" cy="247.94" r="2.6"/><circle cx="518.31" cy="248.75" r="2.6"/><circle cx="519.63" cy="248.95" r="2.6"/><circle cx="520.95" cy="249.02" r="2.6"/><circle cx="522.27" cy="248.91" r="2.6"/><circle cx="523.58" cy="249.10" r="2.6"/><circle cx="524.90" cy="248.97" r="2.6"/><circle cx="526.22" cy="249.44" r="2.6"/><circle cx="527.54" cy="248.92" r="2.6"/><circle cx="528.86" cy="248.94" r="2.6"/><circle cx="530.17" cy="249.82" r="2.6"/><circle cx="531.49" cy="250.42" r="2.6"/><circle cx="532.81" cy="249.52" r="2.6"/><circle cx="534.13" cy="249.53" r="2.6"/><circle cx="535.45" cy="250.35" r="2.6"/><circle cx="536.76" cy="251.09" r="2.6"/><circle cx="538.08" cy="250.55" r="2.6"/><circle cx="539.40" cy="250.15" r="2.6"/><circle cx="540.72" cy="251.97" r="2.6"/><circle cx="542.04" cy="251.05" r="2.6"/><circle cx="543.35" cy="251.63" r="2.6"/><circle cx="544.67" cy="252.09" r="2.6"/><circle cx="545.99" cy="251.65" r="2.6"/><circle cx="547.31" cy="252.64" r="2.6"/><circle cx="548.63" cy="252.03" r="2.6"/><circle cx="549.94" cy="251.70" r="2.6"/><circle cx="551.26" cy="252.38" r="2.6"/><circle cx="552.58" cy="253.02" r="2.6"/><circle cx="553.90" cy="253.59" r="2.6"/><circle cx="555.22" cy="253.51" r="2.6"/><circle cx="556.53" cy="253.91" r="2.6"/><circle cx="557.85" cy="252.45" r="2.6"/><circle cx="559.17" cy="253.46" r="2.6"/><circle cx="560.49" cy="253.97" r="2.6"/><circle cx="561.81" cy="254.23" r="2.6"/><circle cx="563.12" cy="254.26" r="2.6"/><circle cx="564.44" cy="254.07" r="2.6"/><circle cx="565.76" cy="254.65" r="2.6"/><circle cx="567.08" cy="253.42" r="2.6"/><circle cx="568.40" cy="254.68" r="2.6"/><circle cx="569.71" cy="254.84" r="2.6"/><circle cx="571.03" cy="254.48" r="2.6"/><circle cx="572.35" cy="254.03" r="2.6"/><circle cx="573.67" cy="254.17" r="2.6"/><circle cx="574.99" cy="255.08" r="2.6"/><circle cx="576.30" cy="254.82" r="2.6"/><circle cx="577.62" cy="254.95" r="2.6"/><circle cx="578.94" cy="254.85" r="2.6"/><circle cx="580.26" cy="255.06" r="2.6"/><circle cx="581.58" cy="255.68" r="2.6"/><circle cx="582.89" cy="255.90" r="2.6"/><circle cx="584.21" cy="255.33" r="2.6"/><circle cx="585.53" cy="256.02" r="2.6"/><circle cx="586.85" cy="254.96" r="2.6"/><circle cx="588.17" cy="255.63" r="2.6"/><circle cx="589.48" cy="256.19" r="2.6"/><circle cx="590.80" cy="255.95" r="2.6"/><circle cx="592.12" cy="256.19" r="2.6"/><circle cx="593.44" cy="256.18" r="2.6"/><circle cx="594.76" cy="255.86" r="2.6"/><circle cx="596.07" cy="257.08" r="2.6"/><circle cx="597.39" cy="257.43" r="2.6"/><circle cx="598.71" cy="256.60" r="2.6"/><circle cx="600.03" cy="256.99" r="2.6"/><circle cx="601.35" cy="257.00" r="2.6"/><circle cx="602.66" cy="257.03" r="2.6"/><circle cx="603.98" cy="257.46" r="2.6"/><circle cx="605.30" cy="257.19" r="2.6"/><circle cx="606.62" cy="258.06" r="2.6"/><circle cx="607.94" cy="257.76" r="2.6"/><circle cx="609.25" cy="258.27" r="2.6"/><circle cx="610.57" cy="258.52" r="2.6"/><circle cx="611.89" cy="257.88" r="2.6"/><circle cx="613.21" cy="258.02" r="2.6"/><circle cx="614.53" cy="259.24" r="2.6"/><circle cx="615.84" cy="259.00" r="2.6"/><circle cx="617.16" cy="258.51" r="2.6"/><circle cx="618.48" cy="258.30" r="2.6"/><circle cx="619.80" cy="259.17" r="2.6"/><circle cx="621.12" cy="259.08" r="2.6"/><circle cx="622.43" cy="259.73" r="2.6"/><circle cx="623.75" cy="258.39" r="2.6"/><circle cx="625.07" cy="259.16" r="2.6"/><circle cx="626.39" cy="259.11" r="2.6"/><circle cx="627.71" cy="259.33" r="2.6"/><circle cx="629.02" cy="259.34" r="2.6"/><circle cx="630.34" cy="259.61" r="2.6"/><circle cx="631.66" cy="260.15" r="2.6"/><circle cx="632.98" cy="259.82" r="2.6"/><circle cx="634.30" cy="260.24" r="2.6"/><circle cx="635.61" cy="259.86" r="2.6"/><circle cx="636.93" cy="260.86" r="2.6"/><circle cx="638.25" cy="260.91" r="2.6"/><circle cx="639.57" cy="260.54" r="2.6"/><circle cx="640.89" cy="260.42" r="2.6"/><circle cx="642.20" cy="261.03" r="2.6"/><circle cx="643.52" cy="261.52" r="2.6"/><circle cx="644.84" cy="261.41" r="2.6"/><circle cx="646.16" cy="261.70" r="2.6"/><circle cx="647.48" cy="260.84" r="2.6"/><circle cx="648.79" cy="261.39" r="2.6"/><circle cx="650.11" cy="261.38" r="2.6"/><circle cx="651.43" cy="261.91" r="2.6"/><circle cx="652.75" cy="262.40" r="2.6"/><circle cx="654.07" cy="261.82" r="2.6"/><circle cx="655.38" cy="261.76" r="2.6"/><circle cx="656.70" cy="262.34" r="2.6"/><circle cx="658.02" cy="262.72" r="2.6"/><circle cx="659.34" cy="262.41" r="2.6"/><circle cx="660.66" cy="263.13" r="2.6"/><circle cx="661.97" cy="262.81" r="2.6"/><circle cx="663.29" cy="263.54" r="2.6"/><circle cx="664.61" cy="263.78" r="2.6"/><circle cx="665.93" cy="263.30" r="2.6"/><circle cx="667.25" cy="263.52" r="2.6"/><circle cx="668.56" cy="263.03" r="2.6"/><circle cx="669.88" cy="264.04" r="2.6"/></g>
<polyline points="407.60,72.96 408.92,74.60 410.24,76.06 411.55,78.07 412.87,80.08 414.19,81.17 415.51,81.90 416.83,87.93 418.14,91.03 419.46,95.42 420.78,97.24 422.10,97.79 423.42,98.34 424.73,104.18 426.05,101.08 427.37,105.46 428.69,105.09 430.01,107.47 431.32,109.29 432.64,111.85 433.96,114.22 435.28,116.23 436.60,122.98 437.91,124.26 439.23,128.64 440.55,133.03 441.87,130.47 443.19,129.01 444.50,127.37 445.82,137.96 447.14,138.69 448.46,141.79 449.78,149.27 451.09,159.50 452.41,153.84 453.73,158.91 455.05,162.79 456.37,163.33 457.68,167.53 459.00,168.08 460.32,173.92 461.64,162.24 462.96,178.67 464.27,182.32 465.59,189.08 466.91,196.38 468.23,199.30 469.55,207.52 470.86,202.04 472.18,211.17 473.50,206.79 474.82,214.82 476.14,209.34 477.45,216.64 478.77,220.66 480.09,228.51 481.41,220.66 482.73,216.83 484.04,225.41 485.36,224.68 486.68,230.89 488.00,219.02 489.32,234.72 490.63,235.45 491.95,234.72 493.27,236.36 494.59,237.64 495.91,240.20 497.22,236.36 498.54,236.00 499.86,241.66 501.18,240.74 502.50,242.21 503.81,242.57 505.13,241.29 506.45,242.94 507.77,237.82 509.09,243.85 510.40,242.52 511.72,242.90 513.04,245.24 514.36,245.29 515.68,242.46 516.99,244.16 518.31,246.25 519.63,234.90 520.95,246.28 522.27,245.32 523.58,244.59 524.90,246.98 526.22,247.29 527.54,247.16 528.86,245.85 530.17,248.51 531.49,247.81 532.81,249.15 534.13,248.30 535.45,250.42 536.76,248.46 538.08,249.54 539.40,249.39 540.72,248.58 542.04,247.92 543.35,250.98 544.67,248.09 545.99,248.57 547.31,249.49 548.63,247.68 549.94,248.98 551.26,247.81 552.58,249.82 553.90,250.12 555.22,247.91 556.53,247.10 557.85,248.55 559.17,248.28 560.49,249.72 561.81,250.62 563.12,249.47 564.44,247.67 565.76,251.19 567.08,249.77 568.40,251.25 569.71,249.15 571.03,248.36 572.35,250.56 573.67,249.70 574.99,247.91 576.30,249.38 577.62,250.57 578.94,250.65 580.26,251.35 581.58,248.51 582.89,250.07 584.21,248.24 585.53,248.44 586.85,249.33 588.17,239.65 589.48,246.22 590.80,250.97 592.12,247.68 593.44,244.76 594.76,248.60 596.07,249.49 597.39,250.63 598.71,249.25 600.03,248.22 601.35,246.66 602.66,249.04 603.98,250.01 605.30,246.71 606.62,248.55 607.94,248.98 609.25,249.80 610.57,249.74 611.89,247.30 613.21,249.04 614.53,249.32 615.84,249.30 617.16,247.28 618.48,249.40 619.80,248.23 621.12,248.59 622.43,248.63 623.75,249.73 625.07,248.25 626.39,247.35 627.71,248.97 629.02,249.82 630.34,250.19 631.66,248.77 632.98,249.23 634.30,249.08 635.61,248.98 636.93,250.41 638.25,248.27 639.57,248.81 640.89,249.11 642.20,248.84 643.52,248.19 644.84,249.03 646.16,249.90 647.48,248.01 648.79,249.53 650.11,249.81 651.43,250.61 652.75,249.15 654.07,250.15 655.38,249.67 656.70,248.78 658.02,249.18 659.34,248.28 660.66,248.95 661.97,249.62 663.29,249.57 664.61,249.74 665.93,248.69 667.25,249.28 668.56,249.69 669.88,246.59" fill="none" stroke="#34a853" stroke-width="1.8" stroke-linejoin="round"/>
<g fill="#34a853"><circle cx="407.60" cy="72.96" r="2.6"/><circle cx="408.92" cy="74.60" r="2.6"/><circle cx="410.24" cy="76.06" r="2.6"/><circle cx="411.55" cy="78.07" r="2.6"/><circle cx="412.87" cy="80.08" r="2.6"/><circle cx="414.19" cy="81.17" r="2.6"/><circle cx="415.51" cy="81.90" r="2.6"/><circle cx="416.83" cy="87.93" r="2.6"/><circle cx="418.14" cy="91.03" r="2.6"/><circle cx="419.46" cy="95.42" r="2.6"/><circle cx="420.78" cy="97.24" r="2.6"/><circle cx="422.10" cy="97.79" r="2.6"/><circle cx="423.42" cy="98.34" r="2.6"/><circle cx="424.73" cy="104.18" r="2.6"/><circle cx="426.05" cy="101.08" r="2.6"/><circle cx="427.37" cy="105.46" r="2.6"/><circle cx="428.69" cy="105.09" r="2.6"/><circle cx="430.01" cy="107.47" r="2.6"/><circle cx="431.32" cy="109.29" r="2.6"/><circle cx="432.64" cy="111.85" r="2.6"/><circle cx="433.96" cy="114.22" r="2.6"/><circle cx="435.28" cy="116.23" r="2.6"/><circle cx="436.60" cy="122.98" r="2.6"/><circle cx="437.91" cy="124.26" r="2.6"/><circle cx="439.23" cy="128.64" r="2.6"/><circle cx="440.55" cy="133.03" r="2.6"/><circle cx="441.87" cy="130.47" r="2.6"/><circle cx="443.19" cy="129.01" r="2.6"/><circle cx="444.50" cy="127.37" r="2.6"/><circle cx="445.82" cy="137.96" r="2.6"/><circle cx="447.14" cy="138.69" r="2.6"/><circle cx="448.46" cy="141.79" r="2.6"/><circle cx="449.78" cy="149.27" r="2.6"/><circle cx="451.09" cy="159.50" r="2.6"/><circle cx="452.41" cy="153.84" r="2.6"/><circle cx="453.73" cy="158.91" r="2.6"/><circle cx="455.05" cy="162.79" r="2.6"/><circle cx="456.37" cy="163.33" r="2.6"/><circle cx="457.68" cy="167.53" r="2.6"/><circle cx="459.00" cy="168.08" r="2.6"/><circle cx="460.32" cy="173.92" r="2.6"/><circle cx="461.64" cy="162.24" r="2.6"/><circle cx="462.96" cy="178.67" r="2.6"/><circle cx="464.27" cy="182.32" r="2.6"/><circle cx="465.59" cy="189.08" r="2.6"/><circle cx="466.91" cy="196.38" r="2.6"/><circle cx="468.23" cy="199.30" r="2.6"/><circle cx="469.55" cy="207.52" r="2.6"/><circle cx="470.86" cy="202.04" r="2.6"/><circle cx="472.18" cy="211.17" r="2.6"/><circle cx="473.50" cy="206.79" r="2.6"/><circle cx="474.82" cy="214.82" r="2.6"/><circle cx="476.14" cy="209.34" r="2.6"/><circle cx="477.45" cy="216.64" r="2.6"/><circle cx="478.77" cy="220.66" r="2.6"/><circle cx="480.09" cy="228.51" r="2.6"/><circle cx="481.41" cy="220.66" r="2.6"/><circle cx="482.73" cy="216.83" r="2.6"/><circle cx="484.04" cy="225.41" r="2.6"/><circle cx="485.36" cy="224.68" r="2.6"/><circle cx="486.68" cy="230.89" r="2.6"/><circle cx="488.00" cy="219.02" r="2.6"/><circle cx="489.32" cy="234.72" r="2.6"/><circle cx="490.63" cy="235.45" r="2.6"/><circle cx="491.95" cy="234.72" r="2.6"/><circle cx="493.27" cy="236.36" r="2.6"/><circle cx="494.59" cy="237.64" r="2.6"/><circle cx="495.91" cy="240.20" r="2.6"/><circle cx="497.22" cy="236.36" r="2.6"/><circle cx="498.54" cy="236.00" r="2.6"/><circle cx="499.86" cy="241.66" r="2.6"/><circle cx="501.18" cy="240.74" r="2.6"/><circle cx="502.50" cy="242.21" r="2.6"/><circle cx="503.81" cy="242.57" r="2.6"/><circle cx="505.13" cy="241.29" r="2.6"/><circle cx="506.45" cy="242.94" r="2.6"/><circle cx="507.77" cy="237.82" r="2.6"/><circle cx="509.09" cy="243.85" r="2.6"/><circle cx="510.40" cy="242.52" r="2.6"/><circle cx="511.72" cy="242.90" r="2.6"/><circle cx="513.04" cy="245.24" r="2.6"/><circle cx="514.36" cy="245.29" r="2.6"/><circle cx="515.68" cy="242.46" r="2.6"/><circle cx="516.99" cy="244.16" r="2.6"/><circle cx="518.31" cy="246.25" r="2.6"/><circle cx="519.63" cy="234.90" r="2.6"/><circle cx="520.95" cy="246.28" r="2.6"/><circle cx="522.27" cy="245.32" r="2.6"/><circle cx="523.58" cy="244.59" r="2.6"/><circle cx="524.90" cy="246.98" r="2.6"/><circle cx="526.22" cy="247.29" r="2.6"/><circle cx="527.54" cy="247.16" r="2.6"/><circle cx="528.86" cy="245.85" r="2.6"/><circle cx="530.17" cy="248.51" r="2.6"/><circle cx="531.49" cy="247.81" r="2.6"/><circle cx="532.81" cy="249.15" r="2.6"/><circle cx="534.13" cy="248.30" r="2.6"/><circle cx="535.45" cy="250.42" r="2.6"/><circle cx="536.76" cy="248.46" r="2.6"/><circle cx="538.08" cy="249.54" r="2.6"/><circle cx="539.40" cy="249.39" r="2.6"/><circle cx="540.72" cy="248.58" r="2.6"/><circle cx="542.04" cy="247.92" r="2.6"/><circle cx="543.35" cy="250.98" r="2.6"/><circle cx="544.67" cy="248.09" r="2.6"/><circle cx="545.99" cy="248.57" r="2.6"/><circle cx="547.31" cy="249.49" r="2.6"/><circle cx="548.63" cy="247.68" r="2.6"/><circle cx="549.94" cy="248.98" r="2.6"/><circle cx="551.26" cy="247.81" r="2.6"/><circle cx="552.58" cy="249.82" r="2.6"/><circle cx="553.90" cy="250.12" r="2.6"/><circle cx="555.22" cy="247.91" r="2.6"/><circle cx="556.53" cy="247.10" r="2.6"/><circle cx="557.85" cy="248.55" r="2.6"/><circle cx="559.17" cy="248.28" r="2.6"/><circle cx="560.49" cy="249.72" r="2.6"/><circle cx="561.81" cy="250.62" r="2.6"/><circle cx="563.12" cy="249.47" r="2.6"/><circle cx="564.44" cy="247.67" r="2.6"/><circle cx="565.76" cy="251.19" r="2.6"/><circle cx="567.08" cy="249.77" r="2.6"/><circle cx="568.40" cy="251.25" r="2.6"/><circle cx="569.71" cy="249.15" r="2.6"/><circle cx="571.03" cy="248.36" r="2.6"/><circle cx="572.35" cy="250.56" r="2.6"/><circle cx="573.67" cy="249.70" r="2.6"/><circle cx="574.99" cy="247.91" r="2.6"/><circle cx="576.30" cy="249.38" r="2.6"/><circle cx="577.62" cy="250.57" r="2.6"/><circle cx="578.94" cy="250.65" r="2.6"/><circle cx="580.26" cy="251.35" r="2.6"/><circle cx="581.58" cy="248.51" r="2.6"/><circle cx="582.89" cy="250.07" r="2.6"/><circle cx="584.21" cy="248.24" r="2.6"/><circle cx="585.53" cy="248.44" r="2.6"/><circle cx="586.85" cy="249.33" r="2.6"/><circle cx="588.17" cy="239.65" r="2.6"/><circle cx="589.48" cy="246.22" r="2.6"/><circle cx="590.80" cy="250.97" r="2.6"/><circle cx="592.12" cy="247.68" r="2.6"/><circle cx="593.44" cy="244.76" r="2.6"/><circle cx="594.76" cy="248.60" r="2.6"/><circle cx="596.07" cy="249.49" r="2.6"/><circle cx="597.39" cy="250.63" r="2.6"/><circle cx="598.71" cy="249.25" r="2.6"/><circle cx="600.03" cy="248.22" r="2.6"/><circle cx="601.35" cy="246.66" r="2.6"/><circle cx="602.66" cy="249.04" r="2.6"/><circle cx="603.98" cy="250.01" r="2.6"/><circle cx="605.30" cy="246.71" r="2.6"/><circle cx="606.62" cy="248.55" r="2.6"/><circle cx="607.94" cy="248.98" r="2.6"/><circle cx="609.25" cy="249.80" r="2.6"/><circle cx="610.57" cy="249.74" r="2.6"/><circle cx="611.89" cy="247.30" r="2.6"/><circle cx="613.21" cy="249.04" r="2.6"/><circle cx="614.53" cy="249.32" r="2.6"/><circle cx="615.84" cy="249.30" r="2.6"/><circle cx="617.16" cy="247.28" r="2.6"/><circle cx="618.48" cy="249.40" r="2.6"/><circle cx="619.80" cy="248.23" r="2.6"/><circle cx="621.12" cy="248.59" r="2.6"/><circle cx="622.43" cy="248.63" r="2.6"/><circle cx="623.75" cy="249.73" r="2.6"/><circle cx="625.07" cy="248.25" r="2.6"/><circle cx="626.39" cy="247.35" r="2.6"/><circle cx="627.71" cy="248.97" r="2.6"/><circle cx="629.02" cy="249.82" r="2.6"/><circle cx="630.34" cy="250.19" r="2.6"/><circle cx="631.66" cy="248.77" r="2.6"/><circle cx="632.98" cy="249.23" r="2.6"/><circle cx="634.30" cy="249.08" r="2.6"/><circle cx="635.61" cy="248.98" r="2.6"/><circle cx="636.93" cy="250.41" r="2.6"/><circle cx="638.25" cy="248.27" r="2.6"/><circle cx="639.57" cy="248.81" r="2.6"/><circle cx="640.89" cy="249.11" r="2.6"/><circle cx="642.20" cy="248.84" r="2.6"/><circle cx="643.52" cy="248.19" r="2.6"/><circle cx="644.84" cy="249.03" r="2.6"/><circle cx="646.16" cy="249.90" r="2.6"/><circle cx="647.48" cy="248.01" r="2.6"/><circle cx="648.79" cy="249.53" r="2.6"/><circle cx="650.11" cy="249.81" r="2.6"/><circle cx="651.43" cy="250.61" r="2.6"/><circle cx="652.75" cy="249.15" r="2.6"/><circle cx="654.07" cy="250.15" r="2.6"/><circle cx="655.38" cy="249.67" r="2.6"/><circle cx="656.70" cy="248.78" r="2.6"/><circle cx="658.02" cy="249.18" r="2.6"/><circle cx="659.34" cy="248.28" r="2.6"/><circle cx="660.66" cy="248.95" r="2.6"/><circle cx="661.97" cy="249.62" r="2.6"/><circle cx="663.29" cy="249.57" r="2.6"/><circle cx="664.61" cy="249.74" r="2.6"/><circle cx="665.93" cy="248.69" r="2.6"/><circle cx="667.25" cy="249.28" r="2.6"/><circle cx="668.56" cy="249.69" r="2.6"/><circle cx="669.88" cy="246.59" r="2.6"/></g>
<rect x="394.5" y="17.15" width="288.35" height="269.70" fill="none" stroke="#1a1a1a" stroke-width="1.5"/>
<text transform="translate(407.60,301.30) scale(1,1.07)" font-size="11.4" text-anchor="middle">0</text>
<text transform="translate(473.50,301.30) scale(1,1.07)" font-size="11.4" text-anchor="middle">50</text>
<text transform="translate(539.40,301.30) scale(1,1.07)" font-size="11.4" text-anchor="middle">100</text>
<text transform="translate(603.98,301.30) scale(1,1.07)" font-size="11.4" text-anchor="middle">149</text>
<text transform="translate(669.88,301.30) scale(1,1.07)" font-size="11.4" text-anchor="middle">199</text>
<text transform="translate(388.30,257.76) scale(1,1.07)" font-size="11.4" text-anchor="end">0.08</text>
<text transform="translate(388.30,221.24) scale(1,1.07)" font-size="11.4" text-anchor="end">0.10</text>
<text transform="translate(388.30,184.73) scale(1,1.07)" font-size="11.4" text-anchor="end">0.12</text>
<text transform="translate(388.30,148.21) scale(1,1.07)" font-size="11.4" text-anchor="end">0.14</text>
<text transform="translate(388.30,111.70) scale(1,1.07)" font-size="11.4" text-anchor="end">0.16</text>
<text transform="translate(388.30,75.19) scale(1,1.07)" font-size="11.4" text-anchor="end">0.18</text>
<text transform="translate(388.30,38.67) scale(1,1.07)" font-size="11.4" text-anchor="end">0.20</text>
<text transform="translate(182.20,12.00) scale(1,0.95)" font-size="15.2" text-anchor="middle">(a) mAP@0.5 Comparison</text>
<text transform="translate(538.90,12.00) scale(1,0.95)" font-size="15.2" text-anchor="middle">(b) Loss Comparison</text>
<text transform="translate(182.20,316.70) scale(1,1.025)" font-size="13" text-anchor="middle">Epoch</text>
<text transform="translate(538.70,316.70) scale(1,1.025)" font-size="13" text-anchor="middle">Epoch</text>
<text transform="translate(10.70,152.00) rotate(-90) scale(1,1.025)" font-size="13.2" text-anchor="middle">mAP@0.5</text>
<text transform="translate(362.20,152.20) rotate(-90) scale(1,1.025)" font-size="13" text-anchor="middle">Loss</text>
<rect x="129.7" y="243.6" width="190.70" height="37.40" rx="2.5" fill="#fff" fill-opacity="0.97" stroke="#d0d0d0" stroke-width="0.9"/>
<line x1="133.7" x2="158.6" y1="252.4" y2="252.4" stroke="#d62728" stroke-width="1.8"/><circle cx="146.2" cy="252.4" r="2.6" fill="#d62728"/>
<text transform="translate(167.80,256.80) scale(1,1.06)" font-size="11.85">YOLO-Pepper (mAP=94.26%)</text>
<line x1="133.7" x2="158.6" y1="269.3" y2="269.3" stroke="#34a853" stroke-width="1.8"/><circle cx="146.2" cy="269.3" r="2.6" fill="#34a853"/>
<text transform="translate(167.80,273.70) scale(1,1.06)" font-size="11.85">YOLOv10n (mAP=82.38%)</text>
<rect x="564.4" y="23.3" width="112.80" height="37.30" rx="2.5" fill="#fff" fill-opacity="0.97" stroke="#d0d0d0" stroke-width="0.9"/>
<line x1="568.7" x2="593.8" y1="32.4" y2="32.4" stroke="#d62728" stroke-width="1.8"/><circle cx="581.2" cy="32.4" r="2.6" fill="#d62728"/>
<text transform="translate(603.20,36.80) scale(1,1.06)" font-size="11.85">YOLO-Pepper</text>
<line x1="568.7" x2="593.8" y1="49.4" y2="49.4" stroke="#34a853" stroke-width="1.8"/><circle cx="581.2" cy="49.4" r="2.6" fill="#34a853"/>
<text transform="translate(603.20,53.80) scale(1,1.06)" font-size="11.85">YOLOv10n</text>
</g></svg>
</body></html>
